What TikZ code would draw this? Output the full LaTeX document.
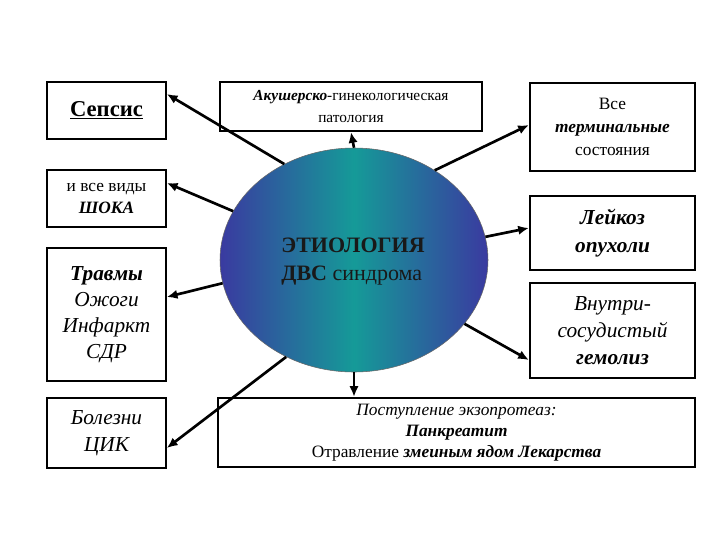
\documentclass[tikz,border=0pt]{standalone}
\usepackage{fontspec}
\setmainfont{Liberation Serif}
\usetikzlibrary{arrows.meta,shapes.geometric}
\definecolor{edgeblue}{HTML}{3A3AA0}
\definecolor{midteal}{HTML}{159A98}
\begin{document}
\begin{tikzpicture}[x=0.75pt,y=-0.75pt,
  bx/.style={draw,line width=1.5pt,align=center,inner sep=2pt},
  ar/.style={line width=2pt,-{Latex[length=8pt,width=7pt]}}]
\useasboundingbox (0,0) rectangle (720,540);
\fill[white] (0,0) rectangle (720,540);
\node[bx,minimum width=89pt,minimum height=43pt,font=\fontsize{17}{19}\selectfont\bfseries] (sep) at (106.5,110.5) {\underline{Сепсис}};
\node[bx,minimum width=196pt,minimum height=37pt,font=\fontsize{11.5}{16}\selectfont] (aku) at (351,106.5) {\textbf{\textit{Акушерско}}-гинекологическая\\патология};
\node[bx,minimum width=124pt,minimum height=66pt,font=\fontsize{13}{17}\selectfont] (vse) at (612.5,127) {Все\\\textbf{\textit{терминальные}}\\состояния};
\node[bx,minimum width=89pt,minimum height=43pt,font=\fontsize{13}{16}\selectfont] (sho) at (106.5,198.5) {и все виды\\\textbf{\textit{ШОКА}}};
\node[bx,minimum width=89pt,minimum height=100pt,font=\fontsize{16}{19.5}\selectfont\itshape] (tra) at (106.5,314.5) {\textbf{Травмы}\\Ожоги\\Инфаркт\\СДР};
\node[bx,minimum width=89pt,minimum height=52pt,font=\fontsize{16}{20}\selectfont\itshape] (bol) at (106.5,433) {Болезни\\ЦИК};
\node[bx,minimum width=124pt,minimum height=56pt,font=\fontsize{16}{21}\selectfont\bfseries\itshape] (lei) at (612.5,233) {Лейкоз\\опухоли};
\node[bx,minimum width=124pt,minimum height=71pt,font=\fontsize{16}{20}\selectfont\itshape] (vnu) at (612.5,330.5) {Внутри-\\сосудистый\\\textbf{гемолиз}};
\node[bx,minimum width=358pt,minimum height=52pt,font=\fontsize{13}{16}\selectfont] (pos) at (456.5,432.5) {\textit{Поступление экзопротеаз:}\\\textbf{\textit{Панкреатит}}\\Отравление \textbf{\textit{змеиным ядом Лекарства}}};
\node[draw=black!60,ellipse,minimum width=201pt,minimum height=168pt,left color=edgeblue,right color=edgeblue,middle color=midteal,inner sep=0pt] (eti) at (354,260) {};
\node[font=\fontsize{16.5}{21}\selectfont,align=left,text=black!90] (etit) at (353,262) {\textbf{ЭТИОЛОГИЯ}\\\textbf{ДВС} синдрома};
\draw[ar] (eti.126) -- (sep.east |- 0,94);
\draw[ar] (eti.north) -- (aku.south);
\draw[ar] (eti.48) -- (vse.west |- 0,125);
\draw[ar] (eti.158) -- (sho.east |- 0,183);
\draw[ar] (eti.190) -- (tra.east |- 0,297);
\draw[ar] (eti.235) -- (bol.east |- 0,448);
\draw[ar] (eti.10) -- (lei.west |- 0,228);
\draw[ar] (eti.-30) -- (vnu.west |- 0,360);
\draw[ar] (eti.south) -- (pos.north -| eti.south);
\end{tikzpicture}
\end{document}
